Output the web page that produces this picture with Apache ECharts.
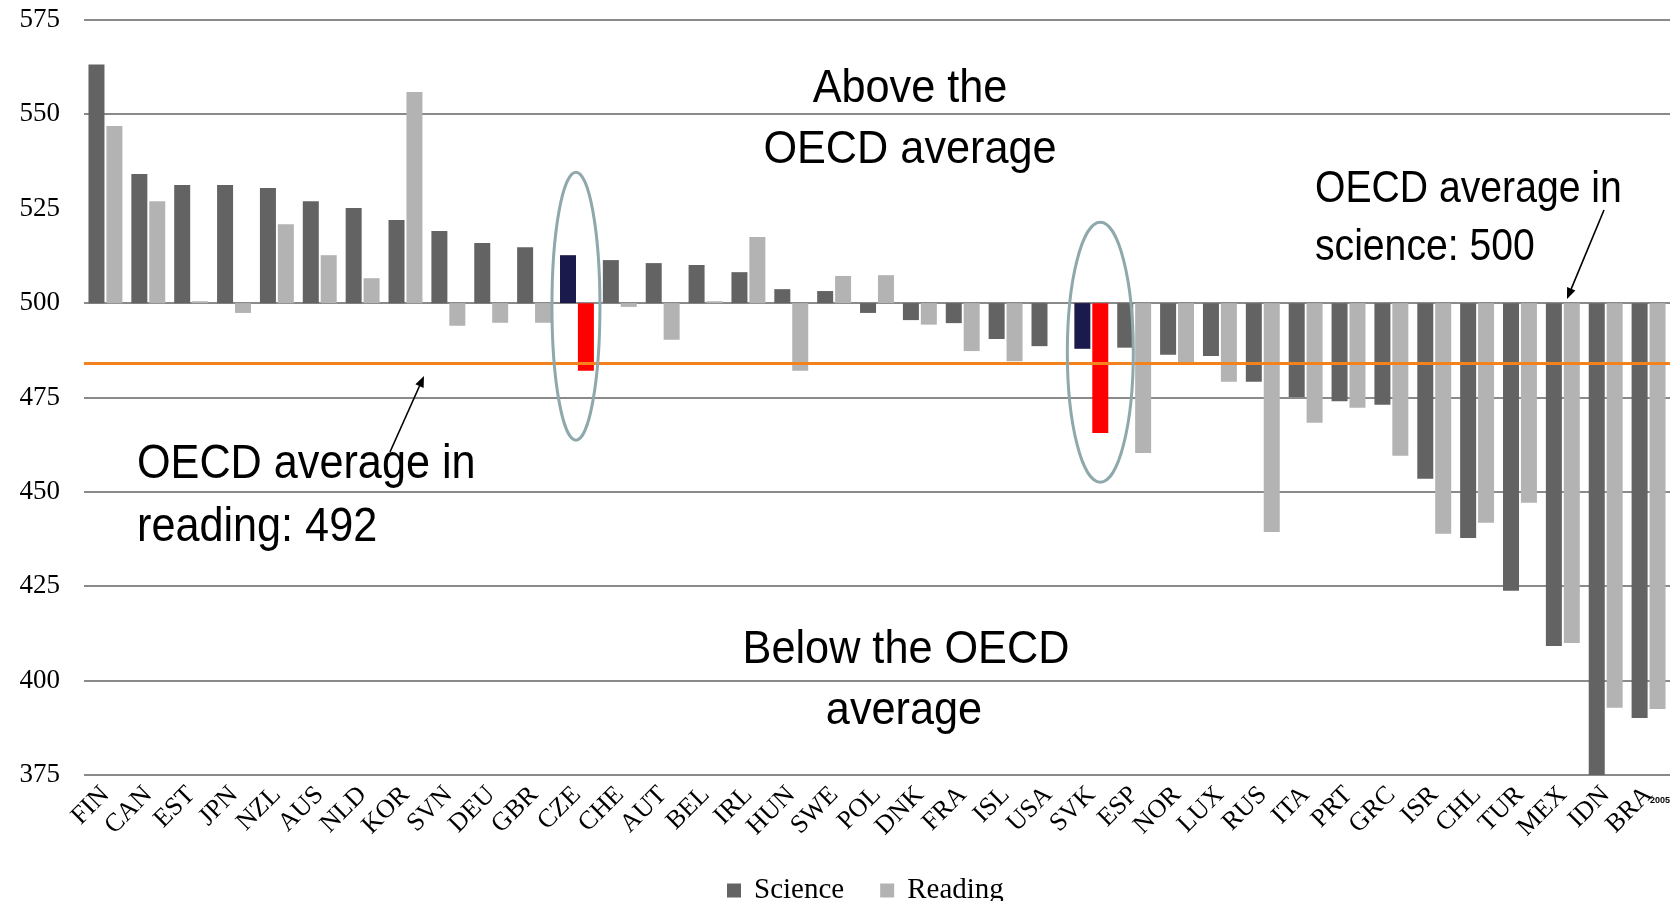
<!DOCTYPE html>
<html>
<head>
<meta charset="utf-8">
<script src="https://cdn.jsdelivr.net/npm/echarts@6/dist/echarts.min.js"></script>
<style>
html,body{margin:0;padding:0;background:#ffffff;}
#chart{width:1677px;height:901px;}
</style>
</head>
<body>
<div id="chart"></div>
<script>
// ---- data ----
const categories = ['FIN','CAN','EST','JPN','NZL','AUS','NLD','KOR','SVN','DEU','GBR','CZE','CHE','AUT','BEL','IRL','HUN','SWE','POL','DNK','FRA','ISL','USA','SVK','ESP','NOR','LUX','RUS','ITA','PRT','GRC','ISR','CHL','TUR','MEX','IDN','BRA'];
const scienceScores = [563.2,534.2,531.3,531.3,530.5,527.0,525.2,522.0,519.1,515.9,514.8,512.7,511.4,510.6,510.1,508.2,503.7,503.2,497.4,495.5,494.7,490.5,488.6,487.9,488.2,486.3,486.0,479.2,475.1,474.0,473.1,453.5,437.8,423.8,409.2,375.0,390.1];
const readingScores = [546.9,527.0,500.5,497.4,520.9,512.7,506.6,555.9,494.0,494.8,494.8,482.1,499.0,490.3,500.5,517.5,482.1,507.2,507.4,494.3,487.3,484.6,500.0,465.6,460.3,484.2,479.2,439.4,468.3,472.3,459.6,438.9,441.8,447.1,410.0,392.8,392.5];
const yTickLabels = ['375','400','425','450','475','500','525','550','575'];
const hiddenGridLines = ['525'];   // this grid line is not drawn in the reference
const seriesNames = ['Science','Reading'];
const highlightedCountries = ['CZE','SVK'];
const scienceAverage = 500;     // bars grow from this level
const readingAverageLine = 484; // where the orange line sits in the picture

// ---- styling ----
const SCI_COLOR = '#636363';
const READ_COLOR = '#b3b3b3';
const HL_SCI = '#1b1a4c';
const HL_READ = '#ff0000';
const GRID_COLOR = '#8a8a8a';
const yMin = 375 - scienceAverage;   // -125
const yMax = 575 - scienceAverage;   // 75
const yStep = 25;

const chart = echarts.init(document.getElementById('chart'), null, {renderer: 'canvas'});

function buildData(scores, hlColor) {
  return scores.map((v, i) => {
    const d = {value: +(v - scienceAverage).toFixed(1)};
    if (highlightedCountries.indexOf(categories[i]) >= 0) d.itemStyle = {color: hlColor};
    return d;
  });
}

const option = {
  animation: false,
  backgroundColor: '#ffffff',
  grid: {left: 84, right: 7, top: 20, bottom: 126},
  legend: {
    data: seriesNames,
    left: 722, top: 871, icon: 'rect', itemWidth: 14, itemHeight: 14, itemGap: 36,
    textStyle: {fontFamily: 'Liberation Serif', fontSize: 29, color: '#000', padding: [0, 0, 0, 8]}
  },
  xAxis: {
    type: 'category', data: categories,
    axisLine: {show: false, onZero: false}, axisTick: {show: false},
    axisLabel: {interval: 0, rotate: 45, margin: 16, fontFamily: 'Liberation Serif', fontSize: 26, color: '#000'},
    splitLine: {show: false}
  },
  yAxis: {
    type: 'value', min: yMin, max: yMax, interval: yStep,
    axisLine: {show: false}, axisTick: {show: false},
    axisLabel: {margin: 24, fontFamily: 'Liberation Serif', fontSize: 27, color: '#000',
      formatter: v => yTickLabels[Math.round((v - yMin) / yStep)]},
    splitLine: {show: false}
  },
  series: [
    {name: seriesNames[0], type: 'bar', barWidth: 16, barGap: '12%', itemStyle: {color: SCI_COLOR}, data: buildData(scienceScores, HL_SCI)},
    {name: seriesNames[1], type: 'bar', barWidth: 16, barGap: '12%', itemStyle: {color: READ_COLOR}, data: buildData(readingScores, HL_READ),
      markLine: {silent: true, symbol: 'none', label: {show: false},
        lineStyle: {color: '#f5821f', width: 3, type: 'solid', opacity: 1},
        data: [{yAxis: readingAverageLine - scienceAverage}]}}
  ]
};
chart.setOption(option);

// ---- grid lines and annotations, positioned through the axes ----
function px(cat, score) {
  return chart.convertToPixel({gridIndex: 0}, [cat, score - scienceAverage]);
}
const gridRect = chart.getModel().getComponent('grid', 0).coordinateSystem.getRect();
const gridLines = yTickLabels.filter(t => hiddenGridLines.indexOf(t) < 0).map(t => {
  const y = Math.round(chart.convertToPixel({yAxisIndex: 0}, Number(t) - scienceAverage));
  return {type: 'line', silent: true, z: -1, shape: {x1: gridRect.x, y1: y, x2: gridRect.x + gridRect.width, y2: y}, style: {stroke: GRID_COLOR, lineWidth: 2}};
});

function arrow(x1, y1, x2, y2) {
  const dx = x2 - x1, dy = y2 - y1;
  const L = Math.sqrt(dx * dx + dy * dy);
  const ux = dx / L, uy = dy / L, nx = -uy, ny = ux;
  const bx = x2 - ux * 11, by = y2 - uy * 11;
  return [
    {type: 'line', silent: true, z: 10, shape: {x1: x1, y1: y1, x2: bx, y2: by}, style: {stroke: '#000', lineWidth: 1.6}},
    {type: 'polygon', silent: true, z: 10, shape: {points: [[x2, y2], [bx + nx * 4.5, by + ny * 4.5], [bx - nx * 4.5, by - ny * 4.5]]}, style: {fill: '#000'}}
  ];
}
function label(text, x, y, size, align, sx) {
  return {type: 'text', silent: true, z: 10, x: x, y: y, scaleX: sx,
    style: {text: text, x: 0, y: 0, fill: '#000', fontFamily: 'Liberation Sans, Arial, sans-serif', fontSize: size, align: align, verticalAlign: 'middle'}};
}

const czeC = px('CZE', scienceAverage);
const svkC = px('SVK', 487);
const graphics = gridLines.concat([
  {type: 'ellipse', silent: true, z: 10, shape: {cx: czeC[0] - 1, cy: czeC[1] + 3, rx: 24, ry: 134}, style: {fill: 'none', stroke: '#8ea8ac', lineWidth: 3}},
  {type: 'ellipse', silent: true, z: 10, shape: {cx: svkC[0] + 9, cy: svkC[1], rx: 33, ry: 130}, style: {fill: 'none', stroke: '#8ea8ac', lineWidth: 3}},
  label('Above the', 910, 89, 46, 'center', 0.94),
  label('OECD average', 910, 150, 46, 'center', 0.94),
  label('Below the OECD', 906, 650, 46, 'center', 0.94),
  label('average', 904, 711, 46, 'center', 0.94),
  label('OECD average in', 1315, 190, 45, 'left', 0.87),
  label('science: 500', 1315, 248, 45, 'left', 0.87),
  label('OECD average in', 137, 465, 48, 'left', 0.9),
  label('reading: 492', 137, 528, 48, 'left', 0.9),
  {type: 'text', silent: true, z: 10, x: 1650, y: 801, style: {text: '2005', fill: '#000', fontFamily: 'Liberation Sans', fontSize: 9, fontWeight: 'bold', verticalAlign: 'middle'}}
], arrow(390, 452, 424, 376), arrow(1604, 210, 1567, 299));

chart.setOption({graphic: graphics});
</script>
</body>
</html>
